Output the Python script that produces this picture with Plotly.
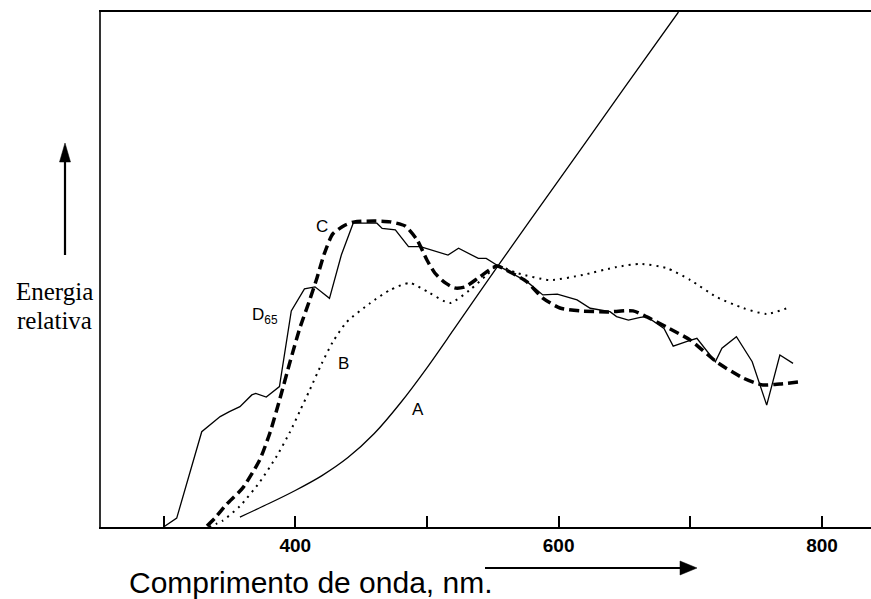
import plotly.graph_objects as go

# Relative spectral power distributions (normalised to 100 near 555 nm)
d65_nm = [300, 310, 329, 333, 343, 350, 358, 367, 370, 378,
          388, 397, 407, 415, 426, 435, 444, 462, 466, 476,
          486, 495, 516, 524, 539, 545, 553, 576, 588, 599,
          614, 624, 639, 644, 653, 662, 667, 680, 687, 697,
          705, 719, 724, 735, 747, 758, 768, 778]
d65_val = [0, 3.4, 36.5, 38.1, 42.3, 44.2, 46.1, 50.6, 51.2, 49.8,
           53.8, 82.8, 91.2, 92.0, 87.6, 104.2, 116.4, 116.4, 114.4, 113.8,
           107.4, 107.4, 104.2, 106.8, 102.9, 102.9, 100.4, 94.0, 88.9, 89.2,
           87.0, 83.8, 82.5, 80.6, 79.3, 80.3, 80.6, 76.1, 69.3, 71.0,
           72.3, 63.3, 68.5, 72.9, 63.3, 46.7, 65.9, 62.7]

c_nm = [333, 339, 348, 360, 373, 381, 388.5, 396, 403.5, 411,
        416.5, 422, 428.5, 438, 445, 460.5, 472, 483.5, 492.5, 500,
        506, 514, 521, 529, 540, 553, 563, 576, 588, 601,
        616, 637, 656.5, 667, 682, 700, 720, 740, 755, 768, 783]
c_val = [0.4, 3.4, 8.8, 14.9, 25.7, 36.4, 49.4, 63.2, 76.2, 87.0,
         95.4, 104.6, 112.3, 115.7, 116.9, 117.2, 116.9, 115.3, 110.0, 102.3,
         97.3, 93.5, 91.6, 92.0, 95.8, 100.0, 97.7, 93.9, 87.7, 83.9,
         82.8, 82.4, 82.8, 80.5, 76.6, 71.6, 63.2, 57.1, 54.4, 54.8, 55.6]

b_nm = [334.5, 344.5, 358, 373, 386, 396, 403.5, 411, 420, 428.5,
        439, 457, 472, 487, 502, 517.5, 532.5, 545.5, 553, 568.5,
        593.5, 618.5, 644, 662, 682, 700, 720, 740, 758, 776]
b_val = [0, 2.3, 8.0, 17.2, 27.2, 36.4, 44.4, 52.5, 62.5, 70.9,
         78.5, 85.8, 90.8, 93.5, 89.7, 85.8, 90.8, 96.6, 100.0, 97.3,
         94.6, 96.6, 99.6, 100.8, 99.2, 94.6, 88.1, 83.9, 81.6, 84.3]

a_nm = [358, 380, 400, 420, 440, 460, 480, 500, 520, 553, 600, 650, 691]
a_val = [3.8, 9.0, 14.0, 19.6, 26.6, 35.8, 47.6, 61.0, 75.4, 99.4, 132.8, 168.3, 197.3]

major_ticks = [400, 600, 800]
minor_ticks = [300, 500, 700]

# Curve labels: (text, wavelength, value, anchor)
curve_labels = [
    ("C", 420, 115.0, "center"),
    ("D<sub>65</sub>", 366, 80.8, "left"),
    ("B", 437, 62.8, "center"),
    ("A", 493, 45.2, "center"),
]

W, H = 871, 599
ML, MR, MT, MB = 101, 0, 12, 72
X_RANGE = [252.5, 837.2]
Y_RANGE = [0, 197.3]


def paper_x(px):
    return (px - ML) / (W - ML - MR)


def paper_y(py):
    return (H - MB - py) / (H - MT - MB)


fig = go.Figure()

fig.add_trace(go.Scatter(x=a_nm, y=a_val, mode="lines",
                         line=dict(color="black", width=1.3, shape="spline", smoothing=0.8)))
fig.add_trace(go.Scatter(x=b_nm, y=b_val, mode="lines",
                         line=dict(color="black", width=2, dash="2px,5px", shape="spline", smoothing=0.6)))
fig.add_trace(go.Scatter(x=c_nm, y=c_val, mode="lines",
                         line=dict(color="black", width=3.5, dash="10px,5px", shape="spline", smoothing=0.6)))
fig.add_trace(go.Scatter(x=d65_nm, y=d65_val, mode="lines",
                         line=dict(color="black", width=1.3)))

annotations = []
for text, xv, yv, anchor in curve_labels:
    annotations.append(dict(x=xv, y=yv, xref="x", yref="y", text=text, showarrow=False,
                            xanchor=anchor, yanchor="middle",
                            font=dict(family="Liberation Sans, Arial", size=17, color="black")))

serif = dict(family="Liberation Serif, Times New Roman", size=25, color="black")
annotations.append(dict(x=paper_x(54), y=paper_y(291), xref="paper", yref="paper",
                        text="Energia", showarrow=False, xanchor="center", yanchor="middle", font=serif))
annotations.append(dict(x=paper_x(54), y=paper_y(320), xref="paper", yref="paper",
                        text="relativa", showarrow=False, xanchor="center", yanchor="middle", font=serif))
annotations.append(dict(x=paper_x(311), y=paper_y(582), xref="paper", yref="paper",
                        text="Comprimento de onda, nm.", showarrow=False,
                        xanchor="center", yanchor="middle",
                        font=dict(family="Liberation Sans, Arial", size=30, color="black")))


def tri_path(pts):
    p = [f"{paper_x(x)},{paper_y(y)}" for x, y in pts]
    return "M " + " L ".join(p) + " Z"


shapes = [
    # vertical arrow beside the energy label
    dict(type="line", xref="paper", yref="paper",
         x0=paper_x(65), y0=paper_y(255), x1=paper_x(65), y1=paper_y(158),
         line=dict(color="black", width=2.2)),
    dict(type="path", xref="paper", yref="paper",
         path=tri_path([(65, 143), (59.5, 162), (70.5, 162)]),
         fillcolor="black", line=dict(color="black", width=0.5)),
    # horizontal arrow after the wavelength title
    dict(type="line", xref="paper", yref="paper",
         x0=paper_x(485), y0=paper_y(568), x1=paper_x(682), y1=paper_y(568),
         line=dict(color="black", width=2)),
    dict(type="path", xref="paper", yref="paper",
         path=tri_path([(697, 568), (680, 561), (680, 575)]),
         fillcolor="black", line=dict(color="black", width=0.5)),
]

fig.update_layout(
    width=W, height=H,
    margin=dict(l=ML, r=MR, t=MT, b=MB, pad=0),
    paper_bgcolor="white", plot_bgcolor="white",
    showlegend=False,
    annotations=annotations,
    shapes=shapes,
    xaxis=dict(range=X_RANGE, showline=True, linecolor="black", linewidth=2, mirror=True,
               ticks="inside", ticklen=11, tickwidth=1.5, tickcolor="black",
               tickvals=major_ticks,
               minor=dict(tickvals=minor_ticks, ticks="inside", ticklen=11,
                          tickwidth=1.5, tickcolor="black", showgrid=False),
               tickfont=dict(family="Liberation Sans, Arial", size=19, color="black", weight="bold"),
               showgrid=False, zeroline=False, fixedrange=True),
    yaxis=dict(range=Y_RANGE, showline=True, linecolor="#333333", linewidth=1.5,
               showticklabels=False, ticks="", showgrid=False, zeroline=False, fixedrange=True),
)

fig.write_html("out.html")
